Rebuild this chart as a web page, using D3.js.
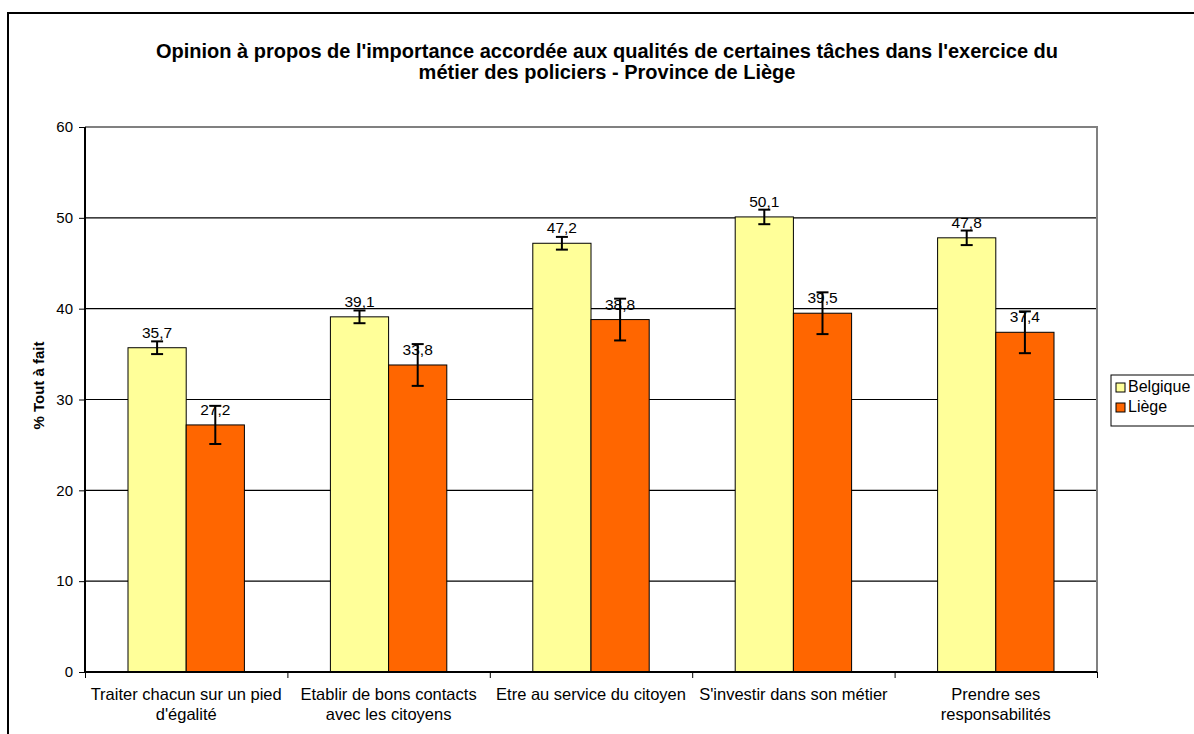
<!DOCTYPE html>
<html><head><meta charset="utf-8">
<script src="https://cdn.jsdelivr.net/npm/d3@7"></script>
<style>body{margin:0;background:#fff}svg{display:block;font-family:Arial,"Liberation Sans",sans-serif}</style>
</head><body>
<svg id="c" width="1194" height="734"></svg>
<script>
const categories = [
  ["Traiter chacun sur un pied", "d'égalité"],
  ["Etablir de bons contacts", "avec les citoyens"],
  ["Etre au service du citoyen"],
  ["S'investir dans son métier"],
  ["Prendre ses", "responsabilités"]
];
const seriesNames = ["Belgique", "Liège"];
const belgique = [35.7, 39.1, 47.2, 50.1, 47.8];
const liege = [27.2, 33.8, 38.8, 39.5, 37.4];
const belgiqueErr = [0.7, 0.7, 0.7, 0.8, 0.8];
const liegeErr = [2.1, 2.3, 2.3, 2.3, 2.3];
const labelsB = ["35,7", "39,1", "47,2", "50,1", "47,8"];
const labelsL = ["27,2", "33,8", "38,8", "39,5", "37,4"];
const yTicks = [0, 10, 20, 30, 40, 50, 60];
const titleLines = ["Opinion à propos de l'importance accordée aux qualités de certaines tâches dans l'exercice du", "métier des policiers - Province de Liège"];
const yTitle = "% Tout à fait";
const colors = ["#FFFF99", "#FF6600"];

const svg = d3.select("#c");
const L = 85, R = 1097, T = 127, B = 672;

// outer border
svg.append("rect").attr("x", 8).attr("y", 13).attr("width", 1300).attr("height", 800)
  .attr("fill", "none").attr("stroke", "#000").attr("stroke-width", 2);

const idx = d3.range(categories.length);
const x0 = d3.scaleBand().domain(idx).range([L, R]).paddingInner(0).paddingOuter(0);
const x1 = d3.scaleBand().domain([0, 1]).range([43, x0.bandwidth() - 43]);
const y = d3.scaleLinear().domain([0, 60]).range([B, T]);

// gridlines
svg.append("g").selectAll("line").data(yTicks.filter(t => t > 0 && t < 60)).join("line")
  .attr("x1", L).attr("x2", R).attr("y1", d => y(d)).attr("y2", d => y(d))
  .attr("stroke", "#000").attr("stroke-width", 1.2);
// top/right plot border gray
svg.append("path").attr("d", `M${L},${y(60)}H${R}V${B}`).attr("fill", "none")
  .attr("stroke", "#808080").attr("stroke-width", 2);

const series = [belgique, liege];
const errs = [belgiqueErr, liegeErr];
const labs = [labelsB, labelsL];

series.forEach((vals, s) => {
  const g = svg.append("g");
  g.selectAll("rect").data(vals).join("rect")
    .attr("x", (d, i) => x0(i) + x1(s))
    .attr("y", d => y(d))
    .attr("width", x1.bandwidth())
    .attr("height", d => B - y(d))
    .attr("fill", colors[s]).attr("stroke", "#000").attr("stroke-width", 1);
});

// axes
const yAxis = d3.axisLeft(y).tickValues(yTicks).tickSize(6).tickPadding(6);
const ya = svg.append("g").attr("transform", `translate(${L},0)`).call(yAxis);
ya.select(".domain").attr("stroke", "#000").attr("stroke-width", 2).attr("d", `M0,${T}V${B}`);
ya.selectAll(".tick line").attr("stroke", "#000");
ya.selectAll("text").attr("font-size", 15).attr("font-family", "Arial").attr("fill", "#000");

const xb = d3.scaleLinear().domain([0, categories.length]).range([L, R]);
const xa = svg.append("g").attr("transform", `translate(0,${B})`)
  .call(d3.axisBottom(xb).tickValues(d3.range(categories.length + 1)).tickSize(6).tickFormat(""));
xa.select(".domain").attr("stroke", "#000").attr("stroke-width", 2).attr("d", `M${L},0H${R}`);
xa.selectAll(".tick line").attr("stroke", "#000");

// error bars & labels
series.forEach((vals, s) => {
  const g = svg.append("g");
  vals.forEach((v, i) => {
    const cx = x0(i) + x1(s) + x1.bandwidth() / 2;
    const e = errs[s][i];
    g.append("line").attr("x1", cx).attr("x2", cx).attr("y1", y(v + e)).attr("y2", y(v - e))
      .attr("stroke", "#000").attr("stroke-width", 2);
    [v + e, v - e].forEach(w => g.append("line").attr("x1", cx - 6).attr("x2", cx + 6)
      .attr("y1", y(w)).attr("y2", y(w)).attr("stroke", "#000").attr("stroke-width", 2));
    g.append("text").attr("x", cx).attr("y", y(v) - 10).attr("text-anchor", "middle")
      .attr("font-size", 15.5).attr("fill", "#000").text(labs[s][i]);
  });
});

// category labels
categories.forEach((lines, i) => {
  const cx = x0(i) + x0.bandwidth() / 2;
  lines.forEach((t, k) => svg.append("text").attr("x", cx).attr("y", 700 + k * 20)
    .attr("text-anchor", "middle").attr("font-size", 16.5).attr("fill", "#000").text(t));
});

// title
titleLines.forEach((t, k) => svg.append("text").attr("x", 607).attr("y", 58 + k * 21)
  .attr("text-anchor", "middle").attr("font-size", 20).attr("font-weight", "bold").text(t));

// y title
svg.append("text").attr("transform", `translate(44,${(T + B) / 2 - 14}) rotate(-90)`)
  .attr("text-anchor", "middle").attr("font-size", 15).attr("font-weight", "bold").text(yTitle);

// legend
const lg = svg.append("g").attr("transform", "translate(1111,375)");
lg.append("rect").attr("x", 0).attr("y", 0).attr("width", 120).attr("height", 51)
  .attr("fill", "#fff").attr("stroke", "#000").attr("stroke-width", 1);
seriesNames.forEach((n, k) => {
  lg.append("rect").attr("x", 5).attr("y", 8 + k * 20).attr("width", 9).attr("height", 9)
    .attr("fill", colors[k]).attr("stroke", "#000").attr("stroke-width", 1);
  lg.append("text").attr("x", 17).attr("y", 17 + k * 20).attr("font-size", 16).text(n);
});
</script>
</body></html>
